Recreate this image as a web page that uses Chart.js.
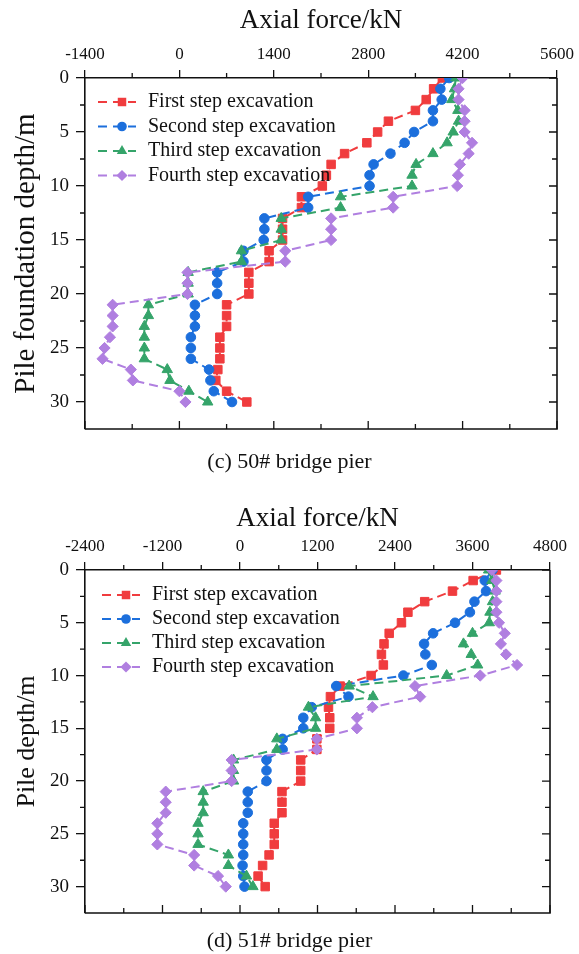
<!DOCTYPE html>
<html>
<head>
<meta charset="utf-8">
<script src="https://cdn.jsdelivr.net/npm/chart.js@4.4.0/dist/chart.umd.min.js"></script>
<style>
  body { margin: 0; background: #fff; width: 579px; height: 954px; position: relative; overflow: hidden; font-family: "Liberation Serif", "Times New Roman", serif; }
  canvas { position: absolute; left: 0; }
  #pier50 { top: 0; }
  #pier51 { top: 477px; }
  .cap { position: absolute; left: 0; width: 579px; text-align: center; font-size: 22px; line-height: 26px; color: #111; }
</style>
</head>
<body>
<canvas id="pier50" width="579" height="477"></canvas>
<canvas id="pier51" width="579" height="477"></canvas>
<div class="cap" style="top:448px">(c) 50# bridge pier</div>
<div class="cap" style="top:927px">(d) 51# bridge pier</div>

<script>
// depth below pile top, metres
const depths = [0,1,2,3,4,5,6,7,8,9,10,11,12,13,14,15,16,17,18,19,20,21,22,23,24,25,26,27,28,29,30];

const stepNames = ["First step excavation", "Second step excavation", "Third step excavation", "Fourth step excavation"];

// 50# pier, axial force (kN) per depth
const first50  = [3900,3770,3660,3500,3100,2940,2780,2450,2250,2180,2120,1810,1810,1530,1530,1530,1330,1330,1030,1030,1030,700,700,700,600,600,600,570,540,700,1000];
const second50 = [4000,3870,3890,3760,3760,3480,3340,3130,2880,2820,2820,1910,1910,1260,1260,1250,950,950,560,560,560,230,230,230,170,170,170,440,460,510,780];
const third50  = [4100,4080,4040,4130,4140,4060,3970,3760,3510,3450,3450,2390,2390,1510,1510,1510,920,920,130,130,130,-460,-460,-520,-520,-520,-520,-180,-140,140,420];
const fourth50 = [4200,4140,4140,4230,4230,4230,4340,4290,4160,4130,4120,3170,3170,2250,2250,2250,1570,1570,120,120,120,-990,-990,-990,-1030,-1110,-1140,-720,-690,0,90];

// 51# pier
const first51  = [3970,3610,3290,2860,2600,2500,2310,2230,2190,2220,2030,1550,1400,1370,1390,1390,1190,1190,940,940,940,650,650,650,530,530,530,450,350,280,390];
const second51 = [3910,3790,3810,3630,3560,3330,2990,2850,2870,2970,2530,1490,1680,1110,980,980,660,660,410,410,410,120,120,120,50,50,50,50,40,50,70];
const third51  = [3850,3900,3950,3910,3870,3860,3600,3460,3580,3680,3200,1690,2060,1060,1170,1170,570,570,-100,-100,-100,-570,-570,-570,-650,-650,-650,-180,-180,100,200];
const fourth51 = [3900,3970,3970,3970,3970,4010,4100,4040,4120,4290,3720,2710,2790,2050,1810,1810,1190,1190,-130,-130,-130,-1150,-1150,-1150,-1280,-1280,-1280,-710,-710,-340,-220];

// axis ticks
const forceTicks50 = [-1400, 0, 1400, 2800, 4200, 5600];
const forceTicks51 = [-2400, -1200, 0, 1200, 2400, 3600, 4800];
const depthTicks = [0, 5, 10, 15, 20, 25, 30];

const colors = ["#f03c3e", "#1c6fdc", "#35a46a", "#b07fe0"];
const markers = [
  { style: "rect", r: 6 },
  { style: "circle", r: 4.8 },
  { style: "triangle", r: 6 },
  { style: "rectRot", r: 5.6 }
];

Chart.defaults.font.family = '"Liberation Serif", "Times New Roman", serif';
Chart.defaults.color = "#111";

function drawMarker(ctx, m, x, y) {
  Chart.helpers.drawPoint(ctx, { pointStyle: m.style, radius: m.r, rotation: 0 }, x, y);
}

// box lines, minor ticks, mirrored ticks and the in-plot legend
const framePlugin = {
  id: "frame",
  afterDraw(chart, args, o) {
    const { ctx, chartArea: a, scales } = chart;
    const x = scales.x, y = scales.y;
    ctx.save();
    ctx.strokeStyle = "#111";
    ctx.lineWidth = 1.6;
    ctx.beginPath();
    ctx.moveTo(a.left, a.bottom); ctx.lineTo(a.right, a.bottom); ctx.lineTo(a.right, a.top);
    ctx.stroke();

    ctx.lineWidth = 1.3;
    ctx.beginPath();
    for (let v = o.xMin; v <= o.xMax + 1e-6; v += o.xMinor) {
      const px = x.getPixelForValue(v);
      const major = o.xMajor.includes(v);
      if (!major) { ctx.moveTo(px, a.top); ctx.lineTo(px, a.top - 5); }
      ctx.moveTo(px, a.bottom); ctx.lineTo(px, a.bottom - (major ? 8 : 5));
    }
    for (let v = 0; v <= 30 + 1e-6; v += 2.5) {
      const py = y.getPixelForValue(v);
      const major = depthTicks.includes(v);
      if (!major) { ctx.moveTo(a.left, py); ctx.lineTo(a.left - 5, py); }
      ctx.moveTo(a.right, py); ctx.lineTo(a.right - (major ? 8 : 5), py);
    }
    ctx.stroke();

    // legend
    ctx.font = '20px "Liberation Serif", serif';
    ctx.textBaseline = "middle";
    stepNames.forEach((name, i) => {
      const ly = o.legY + i * o.legGap;
      ctx.strokeStyle = colors[i];
      ctx.fillStyle = colors[i];
      ctx.lineWidth = 2;
      ctx.setLineDash([9, 6]);
      ctx.beginPath();
      ctx.moveTo(o.legX, ly); ctx.lineTo(o.legX + 38, ly);
      ctx.stroke();
      ctx.setLineDash([]);
      drawMarker(ctx, markers[i], o.legX + 24, ly);
      ctx.fillStyle = "#111";
      ctx.fillText(name, o.legX + 50, ly);
    });
    ctx.restore();
  }
};

function makeChart(id, series, xTicks, xMinor, layout) {
  const datasets = series.map((vals, i) => ({
    label: stepNames[i],
    data: vals.map((v, k) => ({ x: v, y: depths[k] })),
    showLine: true,
    borderColor: colors[i],
    backgroundColor: colors[i],
    borderWidth: 2,
    borderDash: [9, 5],
    pointStyle: markers[i].style,
    pointRadius: markers[i].r,
    pointBorderWidth: 1,
    order: 3 - i
  }));

  return new Chart(document.getElementById(id), {
    type: "scatter",
    data: { datasets },
    options: {
      responsive: false,
      animation: false,
      layout: { padding: { left: 0, top: 0, right: layout.right, bottom: layout.bottom } },
      plugins: {
        legend: { display: false },
        tooltip: { enabled: false },
        frame: { xMin: xTicks[0], xMax: xTicks[xTicks.length - 1], xMinor, xMajor: xTicks,
                 legX: layout.legX, legY: layout.legY, legGap: layout.legGap }
      },
      scales: {
        x: {
          type: "linear",
          position: "top",
          min: xTicks[0],
          max: xTicks[xTicks.length - 1],
          afterBuildTicks: s => { s.ticks = xTicks.map(v => ({ value: v })); },
          afterFit: s => { s.height = layout.top; },
          ticks: { font: { size: 17 }, color: "#111", padding: 5, maxRotation: 0, autoSkip: false,
                   callback: v => String(v) },
          grid: { drawOnChartArea: false, drawTicks: true, tickLength: 8, color: "#111", lineWidth: 1.3 },
          border: { display: true, color: "#111", width: 1.6 },
          title: { display: true, text: "Axial force/kN", font: { size: 27 }, color: "#111",
                   padding: { top: layout.titlePad, bottom: 0 } }
        },
        y: {
          type: "linear",
          reverse: true,
          min: 0,
          max: 32.5,
          afterBuildTicks: s => { s.ticks = depthTicks.map(v => ({ value: v })); },
          afterFit: s => { s.width = 85; },
          ticks: { font: { size: 19 }, color: "#111", padding: 7, autoSkip: false },
          grid: { drawOnChartArea: false, drawTicks: true, tickLength: 9, color: "#111", lineWidth: 1.3 },
          border: { display: true, color: "#111", width: 1.6 },
          title: { display: true, text: layout.yTitle, font: { size: layout.yTitleSize }, color: "#111",
                   padding: { top: layout.yTitlePad, bottom: 0 } }
        }
      }
    },
    plugins: [framePlugin]
  });
}

makeChart("pier50", [first50, second50, third50, fourth50], forceTicks50, 700,
  { top: 78, right: 18, bottom: 48, titlePad: 5, legX: 98, legY: 102, legGap: 24.5,
    yTitle: "Pile foundation depth/m", yTitleSize: 29, yTitlePad: 9 });

makeChart("pier51", [first51, second51, third51, fourth51], forceTicks51, 600,
  { top: 93, right: 29, bottom: 41, titlePad: 26, legX: 102, legY: 118, legGap: 24,
    yTitle: "Pile depth/m", yTitleSize: 26, yTitlePad: 12 });
</script>
</body>
</html>
